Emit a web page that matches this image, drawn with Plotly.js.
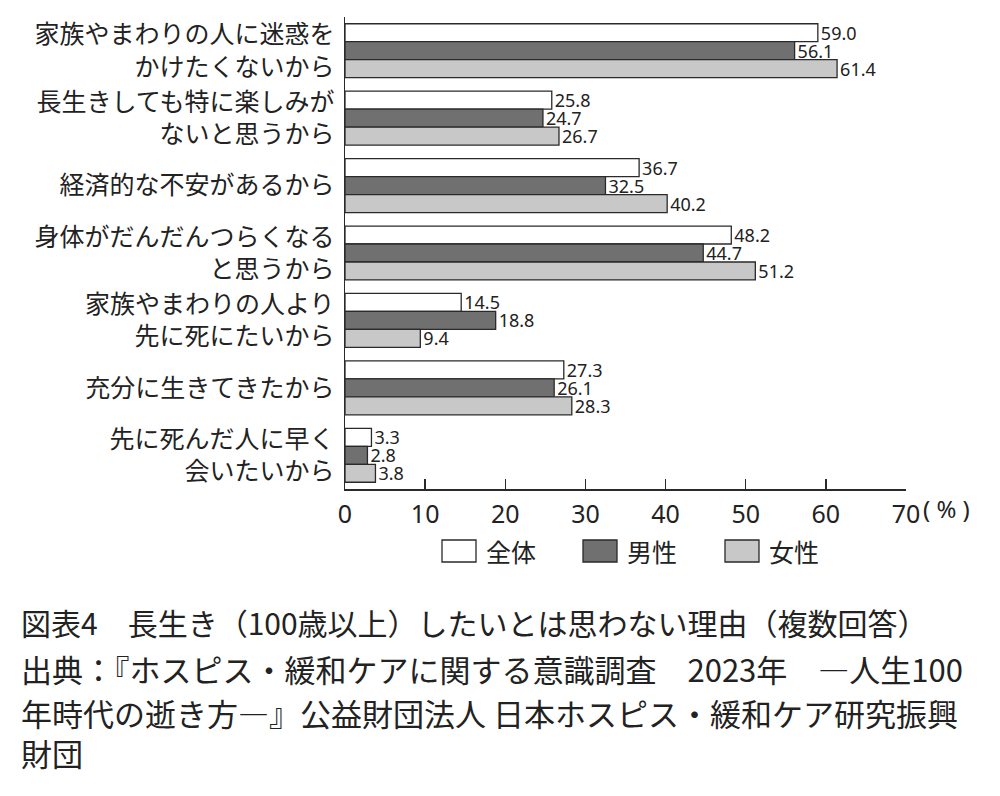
<!DOCTYPE html>
<html>
<head>
<meta charset="utf-8">
<script src="https://cdn.plot.ly/plotly-3.0.1.min.js"></script>
<style>
  html, body { margin: 0; padding: 0; background: #fff; }
  #chart { width: 1000px; height: 796px; }
</style>
</head>
<body>
<div id="chart"></div>
<script>
// categories, top to bottom
var reasons = [
    '家族やまわりの人に迷惑を<br>かけたくないから',
    '長生きしても特に楽しみが<br>ないと思うから',
    '経済的な不安があるから',
    '身体がだんだんつらくなる<br>と思うから',
    '家族やまわりの人より<br>先に死にたいから',
    '充分に生きてきたから',
    '先に死んだ人に早く<br>会いたいから'
];
var seriesNames = ['全体', '男性', '女性'];
var zentai = [59.0, 25.8, 36.7, 48.2, 14.5, 27.3, 3.3];
var dansei = [56.1, 24.7, 32.5, 44.7, 18.8, 26.1, 2.8];
var josei  = [61.4, 26.7, 40.2, 51.2, 9.4, 28.3, 3.8];
var tickVals = [0, 10, 20, 30, 40, 50, 60, 70];
var tickLabels = ['0', '10', '20', '30', '40', '50', '60', '70'];

var colors = ['#ffffff', '#707070', '#c8c8c8'];
var lineColor = '#2a2a2a';
var jp = '"Noto Sans CJK JP", "Noto Sans", sans-serif';
var num = '"Noto Sans", "Noto Sans CJK JP", sans-serif';

// plot area in page pixels
var plotL = 345, plotR = 906, plotT = 17, plotB = 489;
function px(x) { return (x - plotL) / (plotR - plotL); }
function py(y) { return (plotB - y) / (plotB - plotT); }

var values = [zentai, dansei, josei];
var traces = values.map(function(v, i) {
    return {
        type: 'bar',
        orientation: 'h',
        name: seriesNames[i],
        y: reasons,
        x: v,
        text: v.map(function(d) { return d.toFixed(1); }),
        textposition: 'outside',
        constraintext: 'none',
        cliponaxis: false,
        textfont: { family: num, size: 18, color: '#222' },
        marker: { color: colors[i], line: { color: lineColor, width: 1.3 } },
        hoverinfo: 'x+name'
    };
});

// legend drawn by hand so the swatches keep the printed size
var legendItems = [
    { box: 442, text: 484 },
    { box: 583, text: 625 },
    { box: 725, text: 767 }
];
var shapes = legendItems.map(function(it, i) {
    return {
        type: 'rect', xref: 'paper', yref: 'paper',
        x0: px(it.box), x1: px(it.box + 34),
        y0: py(562), y1: py(540),
        fillcolor: colors[i],
        line: { color: lineColor, width: 1.3 }
    };
});

var annotations = legendItems.map(function(it, i) {
    return {
        xref: 'paper', yref: 'paper', x: px(it.text), y: py(551),
        xanchor: 'left', yanchor: 'middle', showarrow: false,
        text: seriesNames[i],
        font: { family: jp, size: 25, color: '#222' }
    };
});

// unit label next to the last tick
annotations.push({
    xref: 'paper', yref: 'paper', x: px(921), y: py(508),
    xanchor: 'left', yanchor: 'middle', showarrow: false,
    text: '( % )',
    font: { family: num, size: 24, color: '#222' }
});

var captions = [
    { y: 622, size: 30, text: '図表4　長生き（100歳以上）したいとは思わない理由（複数回答）' },
    { y: 668, size: 31, text: '出典：『ホスピス・緩和ケアに関する意識調査　2023年　―人生100' },
    { y: 712, size: 31, text: '年時代の逝き方―』公益財団法人 日本ホスピス・緩和ケア研究振興' },
    { y: 752, size: 31, text: '財団' }
];
captions.forEach(function(c) {
    annotations.push({
        xref: 'paper', yref: 'paper', x: px(19), y: py(c.y),
        xanchor: 'left', yanchor: 'middle', showarrow: false,
        text: c.text,
        font: { family: jp, size: c.size, color: '#222' }
    });
});

var layout = {
    width: 1000,
    height: 796,
    margin: { l: plotL, r: 1000 - plotR, t: plotT, b: 796 - plotB, pad: 0 },
    paper_bgcolor: '#ffffff',
    plot_bgcolor: '#ffffff',
    barmode: 'group',
    bargap: 0.2,
    bargroupgap: 0,
    showlegend: false,
    font: { family: jp, color: '#222' },
    xaxis: {
        range: [0, 70],
        tickvals: tickVals,
        ticktext: tickLabels,
        ticks: 'inside',
        ticklen: 10,
        tickwidth: 1.3,
        tickcolor: lineColor,
        showline: true,
        linecolor: lineColor,
        linewidth: 1.5,
        showgrid: false,
        zeroline: false,
        ticklabelstandoff: 2,
        tickfont: { family: num, size: 25, color: '#222' },
        fixedrange: true
    },
    yaxis: {
        autorange: 'reversed',
        showline: true,
        linecolor: lineColor,
        linewidth: 1.5,
        ticks: '',
        showgrid: false,
        ticklabelstandoff: 4,
        tickfont: { family: jp, size: 25, color: '#222' },
        fixedrange: true
    },
    shapes: shapes,
    annotations: annotations
};

Plotly.newPlot('chart', traces, layout, { displayModeBar: false, staticPlot: true });
</script>
</body>
</html>
